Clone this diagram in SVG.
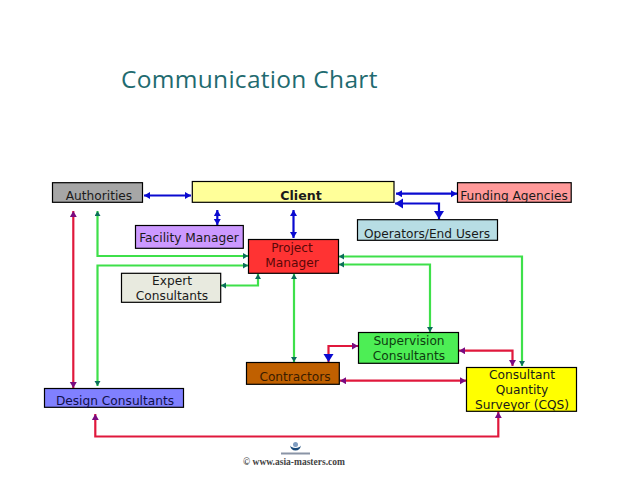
<svg xmlns="http://www.w3.org/2000/svg" width="638" height="479" viewBox="0 0 638 479">
<style>
.n{stroke:#000;stroke-width:1.2}
.t{font-family:"DejaVu Sans",Verdana,sans-serif;font-size:12.2px;fill:#1a1a1a;text-anchor:middle}
.c{fill:none;stroke-width:2.2}
.b{stroke:#0a0ad0}
.g{stroke:#3ee04a}
.r{stroke:#e0183c}
</style>
<defs>
<marker id="ab" markerUnits="userSpaceOnUse" markerWidth="8" markerHeight="8" refX="6" refY="3.5" orient="auto-start-reverse"><path d="M0 0L6 3.5L0 7z" fill="#0a0ad0"/></marker>
<marker id="abb" markerUnits="userSpaceOnUse" markerWidth="12" markerHeight="12" refX="8" refY="5" orient="auto-start-reverse"><path d="M0 0L8 5L0 10z" fill="#0a0ad0"/></marker>
<marker id="ag" markerUnits="userSpaceOnUse" markerWidth="8" markerHeight="8" refX="5" refY="3" orient="auto-start-reverse"><path d="M0 0L5 3L0 6z" fill="#0b6e5a"/></marker>
<marker id="ar" markerUnits="userSpaceOnUse" markerWidth="8" markerHeight="8" refX="6" refY="3.5" orient="auto-start-reverse"><path d="M0 0L6 3.5L0 7z" fill="#7a0a80"/></marker>
</defs>
<rect width="638" height="479" fill="#fff"/>
<text x="121" y="88" font-family="'Open Sans',sans-serif" font-size="24.5" letter-spacing="0.3" fill="#1f6b70" style="font-variant-ligatures:none">Communication Chart</text>
<g id="connectors">
<g class="b" marker-start="url(#ab)" marker-end="url(#ab)">
<path class="c" d="M144 195.5H191"/>
<path class="c" d="M217.3 210V225"/>
<path class="c" d="M293.5 210V238"/>
<path class="c" d="M396 193.7H457"/>
</g>
<path class="c b" d="M395 203.5H439V219" marker-start="url(#abb)" marker-end="url(#abb)"/>
<g class="g" marker-start="url(#ag)" marker-end="url(#ag)">
<path class="c" d="M97.5 211V256H248"/>
<path class="c" d="M97.5 386V265.5H248"/>
<path class="c" d="M221 285.5H258V274"/>
<path class="c" d="M294 274V362"/>
<path class="c" d="M339 264.5H430V332"/>
<path class="c" d="M339 256.5H522V366"/>
</g>
<g class="r" marker-start="url(#ar)" marker-end="url(#ar)">
<path class="c" d="M73.3 211V388"/>
<path class="c" d="M95.3 414V436.5H498.3V412"/>
<path class="c" d="M340 380.7H466"/>
<path class="c" d="M459 350.7H512.5V366"/>
</g>
<path class="c r" d="M328.5 362V346H358" marker-start="url(#abb)" marker-end="url(#ar)"/>
</g>
<g id="authorities"><rect class="n" x="52.5" y="182.7" width="90" height="19.6" fill="#a6a6a6"/><text class="t" x="99" y="200">Authorities</text></g>
<g id="client"><rect class="n" x="192.3" y="181.5" width="201.7" height="20.8" fill="#ffff99"/><text class="t" x="301" y="200" font-weight="bold" style="font-size:12.6px">Client</text></g>
<g id="funding"><rect class="n" x="457.5" y="182.7" width="113.7" height="19.6" fill="#ff9999"/><text class="t" x="514" y="200">Funding Agencies</text></g>
<g id="facility"><rect class="n" x="135.5" y="225.5" width="107.8" height="22.8" fill="#cc99ff"/><text class="t" x="189" y="242">Facility Manager</text></g>
<g id="operators"><rect class="n" x="357.5" y="219.7" width="140" height="20.6" fill="#b7dde4"/><text class="t" x="427" y="238">Operators/End Users</text></g>
<g id="pm"><rect class="n" x="248.5" y="239.5" width="90" height="33.8" fill="#ff3333"/><text class="t" x="292" y="252" style="fill:#5a0808">Project</text><text class="t" x="292" y="267" style="fill:#5a0808">Manager</text></g>
<g id="expert"><rect class="n" x="121.5" y="273.3" width="99.2" height="29" fill="#e8eadf"/><text class="t" x="172" y="285">Expert</text><text class="t" x="172" y="300">Consultants</text></g>
<g id="supervision"><rect class="n" x="358.5" y="332.5" width="100" height="30.8" fill="#4dee55"/><text class="t" x="409" y="345" style="fill:#0d3d10">Supervision</text><text class="t" x="409" y="360" style="fill:#0d3d10">Consultants</text></g>
<g id="contractors"><rect class="n" x="246.5" y="362.5" width="92.8" height="21.8" fill="#c06000"/><text class="t" x="295" y="381" style="fill:#3a1c00">Contractors</text></g>
<g id="cqs"><rect class="n" x="466.5" y="367.5" width="110" height="43.8" fill="#ffff00"/><text class="t" x="522" y="379">Consultant</text><text class="t" x="522" y="394">Quantity</text><text class="t" x="522" y="409">Surveyor (CQS)</text></g>
<g id="design"><rect class="n" x="44.5" y="388.5" width="139" height="18.8" fill="#8080ff"/><text class="t" x="115" y="405" style="fill:#10104a">Design Consultants</text></g>
<g id="logo"><path d="M290 445a5.500 5.500 0 0 0 11 0a5.500 3 0 0 1-11 0z" fill="#1a4a7a"/><circle cx="295.500" cy="444.500" r="2.500" fill="#7f9cc0"/><rect x="281" y="452.500" width="29" height="2" fill="#8a94a6"/></g>
<text x="294" y="465" font-family="'Liberation Serif',serif" font-weight="bold" font-size="9.500" fill="#444" text-anchor="middle">© www.asia-masters.com</text>
</svg>
